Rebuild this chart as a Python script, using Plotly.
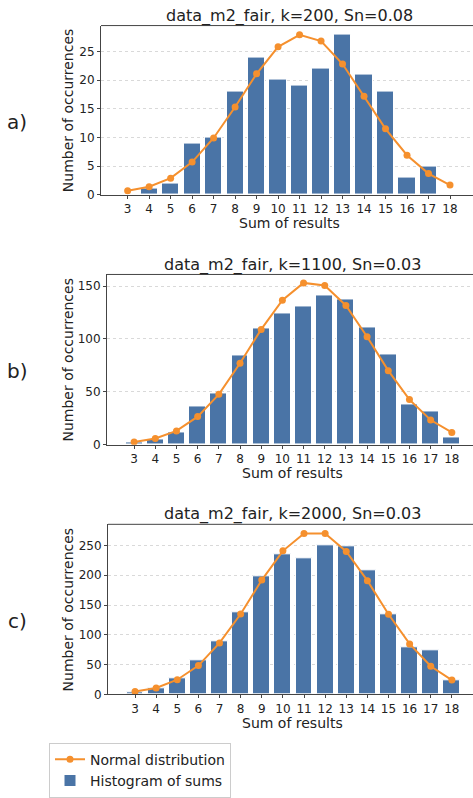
import plotly.graph_objects as go

sums = list(range(3, 19))

hist_a = [0, 1, 2, 9, 10, 18, 24, 20, 19, 22, 28, 21, 18, 3, 5, 0]
norm_a = [0.7, 1.4, 2.9, 5.7, 9.9, 15.3, 21.1, 25.8, 27.9, 26.8, 22.8, 17.2, 11.5, 6.9, 3.7, 1.7]

hist_b = [2.5, 5, 11.5, 36, 48, 84, 110, 124, 131, 141, 137, 111, 85, 38, 31, 7]
norm_b = [2.5, 5.9, 13, 26.5, 47.6, 77, 109, 136.6, 153, 150.6, 131.7, 102, 70, 42.6, 23.3, 11.5]

hist_c = [3, 10.5, 27.5, 58, 88.5, 137.5, 198, 234.5, 229, 250, 248, 208.5, 135, 80, 74, 23.5]
norm_c = [5, 11, 24.8, 48.5, 86.5, 135, 192, 241, 270, 270, 240, 191, 134.6, 84.8, 47.4, 24.2]

titles = ["data_m2_fair, k=200, Sn=0.08",
          "data_m2_fair, k=1100, Sn=0.03",
          "data_m2_fair, k=2000, Sn=0.03"]
panel_labels = ["a)", "b)", "c)"]
y_ticks = [[0, 5, 10, 15, 20, 25], [0, 50, 100, 150], [0, 50, 100, 150, 200, 250]]
y_max = [29.5, 161, 285.5]

W, H = 473, 798
BAR = "#4a74a6"
ORANGE = "#f5902e"
FONT = "DejaVu Sans"

# pixel layout of each panel: (left, top, bottom)
panels = [(101, 26, 198), (107, 279, 452), (108, 533, 706)]
x_ranges = [[1.76, 19.07], [1.72, 19.0], [1.72, 19.0]]

fig = go.Figure()
data = [(hist_a, norm_a), (hist_b, norm_b), (hist_c, norm_c)]
annotations = []

for i, ((hist, norm), (left, top, bottom)) in enumerate(zip(data, panels)):
    suffix = "" if i == 0 else str(i + 1)
    xa = "x" + suffix
    ya = "y" + suffix
    fig.add_trace(go.Bar(
        x=sums, y=hist, width=0.8, marker=dict(color=BAR, line=dict(color="white", width=1)),
        name="Histogram of sums", showlegend=(i == 0), xaxis=xa, yaxis=ya, legendrank=2))
    fig.add_trace(go.Scatter(
        x=sums, y=norm, mode="lines+markers", line=dict(color=ORANGE, width=2),
        marker=dict(color=ORANGE, size=7), name="Normal distribution",
        showlegend=(i == 0), xaxis=xa, yaxis=ya, legendrank=1))

    xdom = [left / W, 1.0]
    ydom = [1 - bottom / H, 1 - top / H]
    axis_common = dict(showline=True, linecolor="#444", linewidth=1, ticks="outside",
                       ticklen=3, tickcolor="#444", tickfont=dict(family=FONT, size=12, color="#222"),
                       zeroline=False, mirror=False)
    fig.layout["xaxis" + suffix] = dict(
        domain=xdom, range=x_ranges[i], tickvals=sums, showgrid=False,
        anchor=ya, **axis_common)
    fig.layout["yaxis" + suffix] = dict(
        domain=ydom, range=[0, y_max[i]], tickvals=y_ticks[i], showgrid=True,
        gridcolor="#d9d9d9", griddash="dot", gridwidth=1, anchor=xa,
        **axis_common)

    # top spine
    fig.add_shape(type="line", xref="paper", yref="paper",
                  x0=left / W, x1=1, y0=1 - top / H, y1=1 - top / H,
                  line=dict(color="#444", width=1))

    cx = (left + 477) / 2 / W
    annotations.append(dict(text=titles[i], x=cx, y=1 - (top - 10) / H, xref="paper", yref="paper",
                            showarrow=False, font=dict(family=FONT, size=16, color="#222"),
                            xanchor="center", yanchor="middle"))
    annotations.append(dict(text="Sum of results", x=cx, y=1 - (bottom + 29) / H, xref="paper",
                            yref="paper", showarrow=False, font=dict(family=FONT, size=14, color="#222"),
                            xanchor="center", yanchor="middle"))
    annotations.append(dict(text="Number of occurrences", x=68 / W, y=1 - (top + bottom) / 2 / H,
                            xref="paper", yref="paper", showarrow=False, textangle=-90,
                            font=dict(family=FONT, size=14, color="#222"),
                            xanchor="center", yanchor="middle"))
    annotations.append(dict(text=panel_labels[i], x=17 / W, y=1 - ((top + bottom) / 2 + 12) / H,
                            xref="paper", yref="paper", showarrow=False,
                            font=dict(family=FONT, size=20, color="#222"),
                            xanchor="center", yanchor="middle"))

fig.update_layout(
    width=W, height=H, margin=dict(l=0, r=0, t=0, b=0),
    paper_bgcolor="white", plot_bgcolor="white",
    annotations=annotations, bargap=0,
    legend=dict(x=49 / W, y=1 - 755 / H, xanchor="left", yanchor="top",
                bordercolor="#cccccc", borderwidth=1, bgcolor="white",
                font=dict(family=FONT, size=14, color="#222"),
                tracegroupgap=0, itemwidth=30),
)

fig.write_html("out.html", config={"displayModeBar": False},
               post_script="document.body.style.margin='0';document.body.style.overflow='hidden';")
